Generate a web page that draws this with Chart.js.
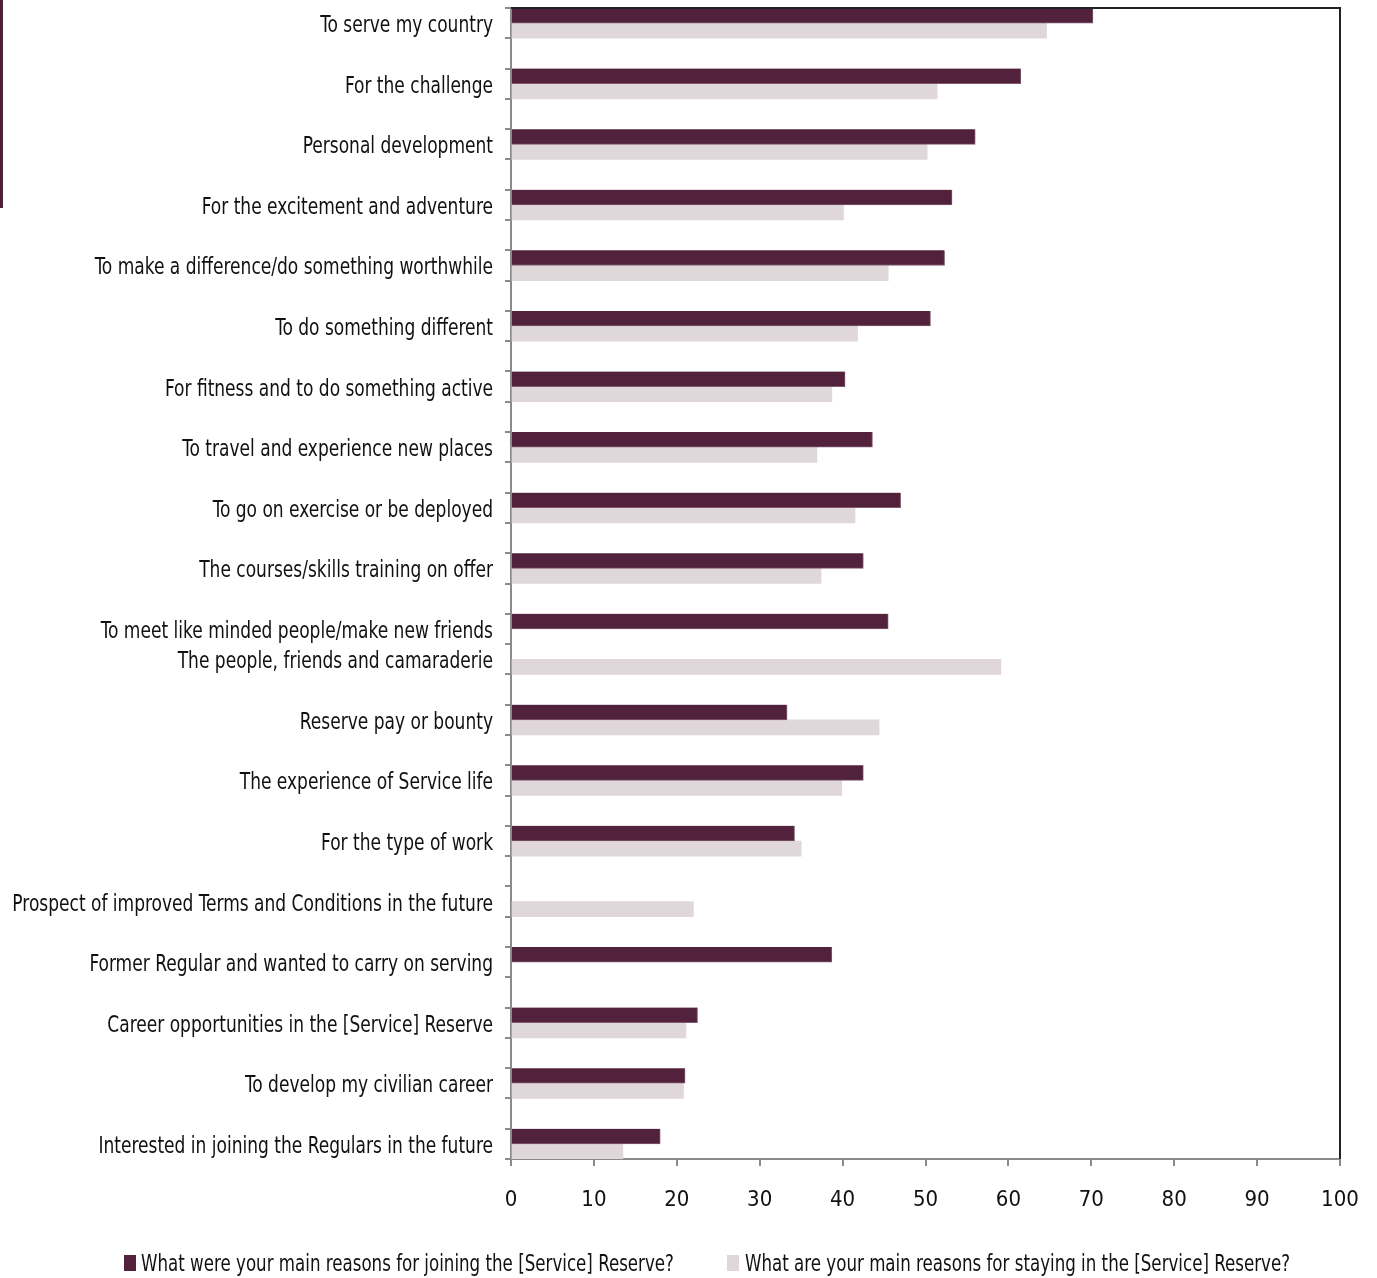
<!DOCTYPE html>
<html>
<head>
<meta charset="utf-8">
<title>Reasons for joining and staying in the Reserve</title>
<script src="https://cdn.jsdelivr.net/npm/chart.js@4.4.1/dist/chart.umd.min.js"></script>
<style>
  html, body { margin: 0; padding: 0; background: #fff; }
  #wrap { position: relative; width: 1377px; height: 1278px; overflow: hidden; }
  #side { position: absolute; left: 0; top: 0; width: 3px; height: 208px; background: #4f2139; }
  #legend {
    position: absolute; left: 0; top: 1249px; width: 1377px; height: 28px;
    font-family: 'DejaVu Sans Condensed', 'Liberation Sans Narrow', sans-serif;
    font-size: 23px; color: #111; white-space: nowrap;
  }
  #legend .box { position: absolute; top: 6px; width: 12px; height: 16px; }
  #legend .txt { position: absolute; top: 0; line-height: 28px; transform: scaleX(0.806); transform-origin: left center; }
</style>
</head>
<body>
<div id="wrap">
  <div id="side"></div>
  <canvas id="chart" width="1377" height="1278"></canvas>
  <div id="legend"></div>
</div>
<script>
const FONT = "'DejaVu Sans Condensed', 'Liberation Sans Narrow', sans-serif";
const LABEL_SQUEEZE = 0.824;   // narrow the condensed face a little more

// one slot per row; blank slots leave the spacing between reasons
const reasons = [
  'To serve my country', '',
  'For the challenge', '',
  'Personal development', '',
  'For the excitement and adventure', '',
  'To make a difference/do something worthwhile', '',
  'To do something different', '',
  'For fitness and to do something active', '',
  'To travel and experience new places', '',
  'To go on exercise or be deployed', '',
  'The courses/skills training on offer', '',
  'To meet like minded people/make new friends',
  'The people, friends and camaraderie', '',
  'Reserve pay or bounty', '',
  'The experience of Service life', '',
  'For the type of work', '',
  'Prospect of improved Terms and Conditions in the future', '',
  'Former Regular and wanted to carry on serving', '',
  'Career opportunities in the [Service] Reserve', '',
  'To develop my civilian career', '',
  'Interested in joining the Regulars in the future'
];

const joining = [
  70.2, null,
  61.5, null,
  56.0, null,
  53.2, null,
  52.3, null,
  50.6, null,
  40.3, null,
  43.6, null,
  47.0, null,
  42.5, null,
  45.5,
  null, null,
  33.3, null,
  42.5, null,
  34.2, null,
  null, null,
  38.7, null,
  22.5, null,
  21.0, null,
  18.0
];

const staying = [
  64.6, null,
  51.4, null,
  50.2, null,
  40.1, null,
  45.5, null,
  41.8, null,
  38.7, null,
  36.9, null,
  41.5, null,
  37.4, null,
  null,
  59.1, null,
  44.4, null,
  39.9, null,
  35.0, null,
  22.0, null,
  null, null,
  21.1, null,
  20.8, null,
  13.5
];

const seriesNames = [
  'What were your main reasons for joining the [Service] Reserve?',
  'What are your main reasons for staying in the [Service] Reserve?'
];
const seriesColors = ['#52223c', '#dfd7d9'];
const xTicks = [0, 10, 20, 30, 40, 50, 60, 70, 80, 90, 100];

// dark frame on the top and right of the plot area
const plotFrame = {
  id: 'plotFrame',
  afterDraw(chart) {
    const { ctx, chartArea: a } = chart;
    ctx.save();
    ctx.strokeStyle = '#222';
    ctx.lineWidth = 2;
    ctx.beginPath();
    ctx.moveTo(a.left, a.top);
    ctx.lineTo(a.right, a.top);
    ctx.lineTo(a.right, a.bottom);
    ctx.stroke();
    ctx.restore();
  }
};

// category labels, right aligned against the axis, squeezed horizontally
const reasonLabels = {
  id: 'reasonLabels',
  afterDraw(chart) {
    const { ctx } = chart;
    const y = chart.scales.y;
    const right = y.right - 18;
    ctx.save();
    ctx.fillStyle = '#111';
    ctx.font = `23px ${FONT}`;
    ctx.textAlign = 'right';
    ctx.textBaseline = 'middle';
    chart.data.labels.forEach((text, i) => {
      if (!text) return;
      ctx.save();
      ctx.translate(right, y.getPixelForTick(i) + 3);
      ctx.scale(LABEL_SQUEEZE, 1);
      ctx.fillText(text, 0, 0);
      ctx.restore();
    });
    ctx.restore();
  }
};

const chart = new Chart(document.getElementById('chart'), {
  type: 'bar',
  data: {
    labels: reasons,
    datasets: [
      { label: seriesNames[0], data: joining, backgroundColor: seriesColors[0], borderColor: '#7d5a6c', borderWidth: { top: 0, right: 1, bottom: 1, left: 0 }, borderSkipped: 'start' },
      { label: seriesNames[1], data: staying, backgroundColor: seriesColors[1], borderWidth: 0 }
    ]
  },
  options: {
    indexAxis: 'y',
    responsive: false,
    devicePixelRatio: 1,
    animation: false,
    categoryPercentage: 1,
    barPercentage: 1,
    layout: { padding: { top: 8, right: 37, left: 0, bottom: 0 } },
    plugins: {
      legend: { display: false },
      tooltip: { enabled: false }
    },
    scales: {
      y: {
        type: 'category',
        offset: true,
        grid: { offset: true, drawOnChartArea: false, tickLength: 6, color: '#8a8a8a', lineWidth: 2 },
        border: { display: true, color: '#8a8a8a', width: 2 },
        ticks: { display: false, autoSkip: false },
        afterFit(s) { s.width = 511; s.paddingTop = 0; s.paddingBottom = 0; }
      },
      x: {
        min: 0,
        max: 100,
        afterBuildTicks(s) { s.ticks = xTicks.map(v => ({ value: v })); },
        grid: { drawOnChartArea: false, tickLength: 7, color: '#8a8a8a', lineWidth: 2 },
        border: { display: true, color: '#8a8a8a', width: 2 },
        ticks: { padding: 21, color: '#111', font: { family: FONT, size: 22 } },
        afterFit(s) { s.height = 119; s.paddingLeft = 0; s.paddingRight = 0; }
      }
    }
  },
  plugins: [plotFrame, reasonLabels]
});

// legend below the plot
const legendPos = [{ box: 124, text: 141 }, { box: 727, text: 745 }];
document.getElementById('legend').innerHTML = chart.data.datasets.map((ds, i) =>
  `<span class="box" style="left:${legendPos[i].box}px;background:${ds.backgroundColor}"></span>` +
  `<span class="txt" style="left:${legendPos[i].text}px">${ds.label}</span>`
).join('');
</script>
</body>
</html>
